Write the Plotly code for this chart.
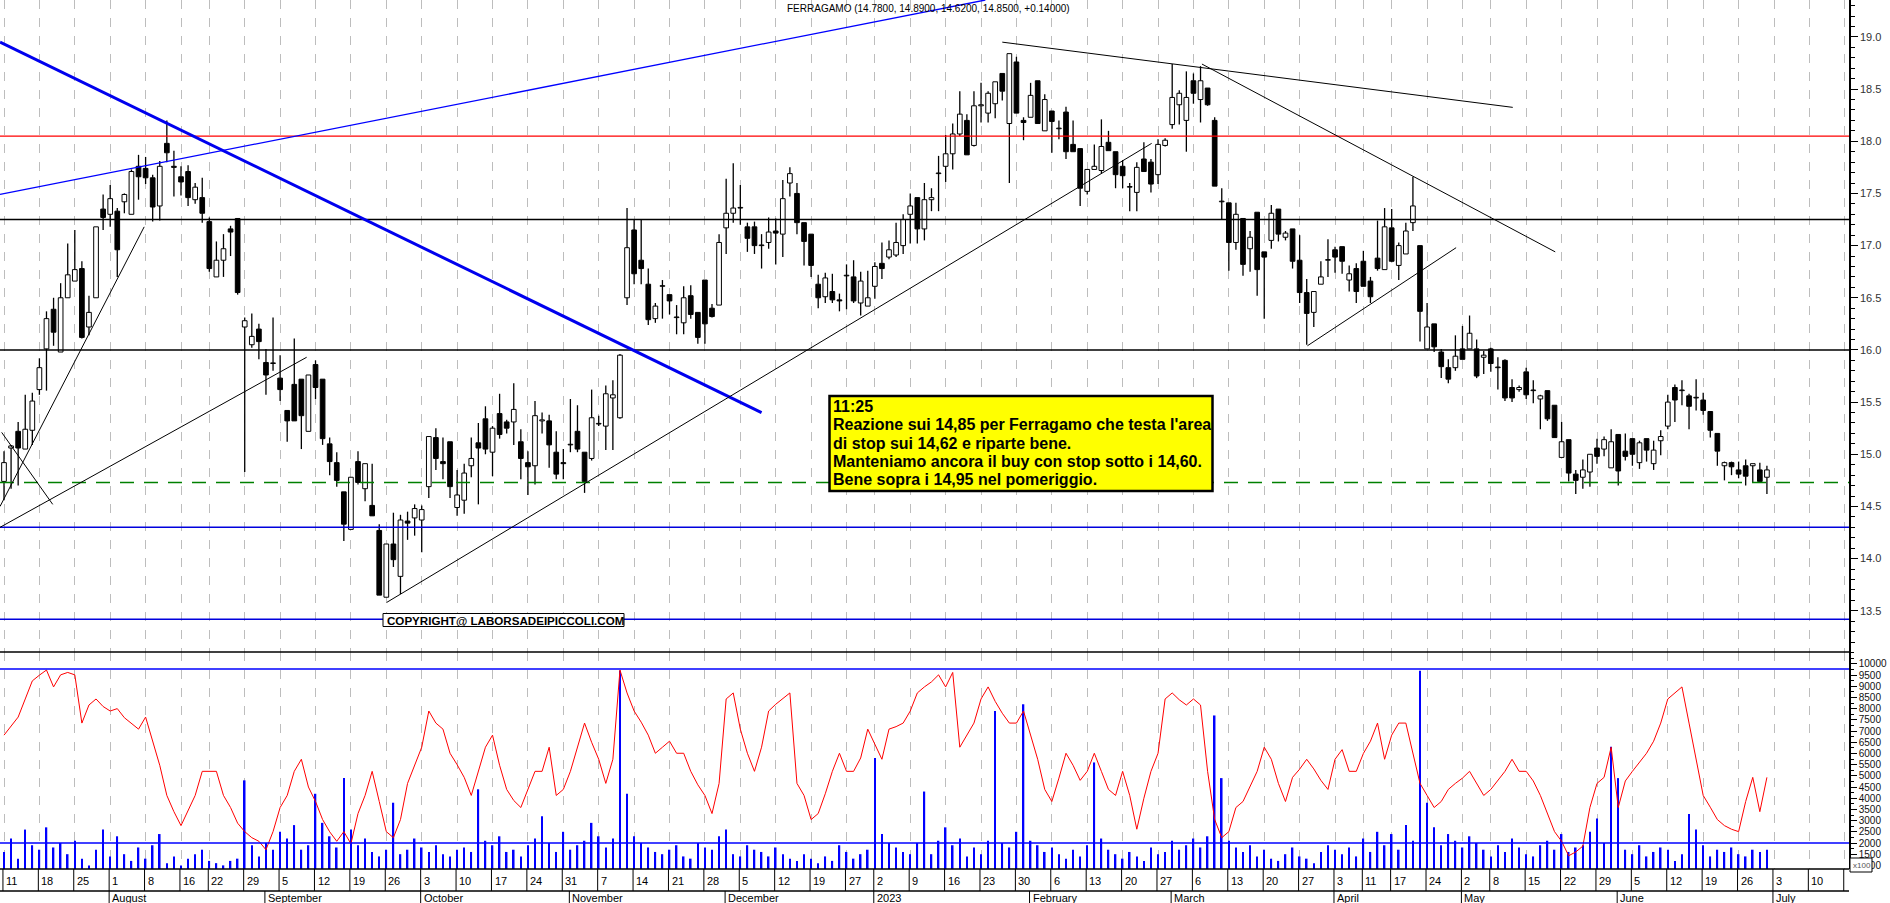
import plotly.graph_objects as go
import pandas as pd

# ---------------- DATA ----------------
holidays = ['2022-08-15', '2022-12-26', '2023-04-07', '2023-04-10', '2023-05-01']

open_ = [14.74,15.06,15.22,15.05,15.23,15.62,16.01,16.39,15.98,16.50,16.66,16.78,16.22,16.50,17.35,17.30,17.33,17.42,17.30,17.76,17.74,17.65,17.38,17.98,17.76,17.66,17.71,17.44,17.46,17.23,16.70,16.86,17.16,17.26,16.22,16.05,16.20,15.88,15.87,15.73,15.42,15.67,15.72,15.22,
         15.86,15.72,15.10,14.92,14.64,14.28,14.93,14.67,14.51,14.27,13.63,14.14,13.83,14.36,14.39,14.37,14.69,15.16,14.93,15.12,14.49,14.56,14.89,15.11,15.34,15.02,15.39,15.31,15.31,15.12,14.92,14.89,15.32,15.32,15.02,14.92,15.09,15.22,15.02,14.96,15.29,15.27,15.54,
         15.35,16.50,17.15,16.86,16.63,16.30,16.61,16.53,16.31,16.26,16.52,16.36,16.67,16.40,16.43,17.17,17.31,17.36,17.18,17.18,17.00,17.03,17.14,17.11,17.60,17.50,17.22,17.11,16.63,16.51,16.56,16.48,16.71,16.70,16.45,16.42,16.61,16.83,16.89,16.91,17.00,17.30,17.46,
         17.16,17.44,17.69,17.76,17.88,18.07,18.20,17.96,18.34,18.27,18.36,18.65,18.17,18.76,18.20,18.23,18.58,18.10,18.29,18.12,18.28,17.97,17.93,17.52,17.73,17.72,17.99,17.90,17.76,17.56,17.51,17.83,17.80,17.68,17.96,18.16,18.35,18.20,18.58,18.40,18.51,18.20,17.42,
         17.41,17.03,17.26,16.97,17.32,16.94,17.05,17.35,17.08,17.16,16.86,16.55,16.36,16.63,16.86,16.96,16.99,16.67,16.78,16.85,16.66,16.88,16.77,17.17,16.81,16.92,17.22,17.00,16.01,16.25,15.98,15.83,15.83,16.01,16.01,16.01,15.93,16.01,15.83,15.90,15.64,15.62,
         15.79,15.61,15.53,15.61,15.47,14.97,15.14,14.81,14.78,14.83,15.06,15.05,14.87,15.19,15.03,15.15,14.92,15.15,14.91,15.13,15.27,15.64,15.61,15.56,15.54,15.52,15.41,15.20,14.89,14.92,14.85,14.89,14.89,14.85,14.78]
high = [15.03,15.09,15.31,15.57,15.59,15.92,16.37,16.50,16.64,17.02,17.15,16.85,16.52,17.18,17.49,17.58,17.36,17.50,17.73,17.87,17.85,17.68,17.81,18.20,17.91,17.76,17.77,17.60,17.65,17.27,17.04,17.11,17.19,17.26,16.31,16.35,16.25,16.01,16.31,15.95,15.42,16.11,15.72,15.76,
        15.90,15.72,15.16,15.02,14.64,14.78,15.03,14.91,14.91,14.33,14.14,14.44,14.42,14.45,14.52,14.51,15.17,15.25,15.16,15.12,14.85,14.91,15.16,15.30,15.46,15.27,15.58,15.33,15.68,15.24,15.03,15.51,15.40,15.38,15.22,15.05,15.53,15.47,15.02,15.62,15.37,15.66,15.71,
        15.96,17.36,17.25,17.25,16.78,16.45,16.67,16.53,16.43,16.61,16.62,16.36,16.67,16.44,17.11,17.64,17.79,17.58,17.22,17.23,17.11,17.27,17.26,17.63,17.75,17.60,17.22,17.11,16.72,16.74,16.73,16.54,16.82,16.86,16.75,16.76,16.84,17.03,17.05,17.22,17.30,17.50,17.46,
        17.60,17.55,17.86,18.06,18.17,18.48,18.26,18.48,18.56,18.48,18.57,18.65,18.84,18.81,18.23,18.56,18.58,18.45,18.29,18.20,18.33,18.20,17.93,17.73,17.97,18.21,18.10,17.90,17.82,17.60,17.80,17.99,17.83,18.02,18.03,18.74,18.49,18.67,18.65,18.72,18.51,18.23,17.55,
        17.41,17.41,17.26,17.14,17.32,16.94,17.39,17.35,17.14,17.16,17.10,16.68,16.56,16.85,17.06,16.99,16.99,16.81,16.83,16.95,16.70,17.24,17.36,17.35,17.03,17.22,17.66,17.00,16.45,16.25,16.01,15.91,16.14,16.23,16.33,16.10,15.99,16.02,15.93,15.91,15.72,15.66,
        15.83,15.71,15.57,15.61,15.47,15.31,15.14,14.85,14.95,15.00,15.15,15.17,15.24,15.19,15.20,15.15,15.13,15.15,15.13,15.23,15.57,15.67,15.71,15.58,15.72,15.59,15.41,15.20,14.93,14.93,14.93,14.95,14.91,14.92,14.89]
low = [14.56,14.67,14.70,15.05,15.09,15.57,15.61,16.04,15.98,16.50,16.66,16.11,16.14,16.50,17.15,17.18,16.70,17.31,17.30,17.44,17.59,17.23,17.24,17.80,17.47,17.48,17.38,17.40,17.22,16.75,16.70,16.70,16.90,16.53,14.83,16.02,15.91,15.57,15.80,15.51,15.12,15.32,15.05,15.22,
       15.53,15.09,14.80,14.69,14.17,14.28,14.71,14.55,14.41,13.65,13.63,13.92,13.66,14.18,14.22,14.06,14.58,14.85,14.76,14.58,14.41,14.43,14.78,14.52,15.00,14.79,15.15,15.20,15.09,14.76,14.61,14.71,15.20,14.87,14.76,14.76,15.02,15.02,14.63,14.94,15.27,15.04,15.04,
       15.34,16.43,16.63,16.63,16.24,16.26,16.30,16.34,16.15,16.15,16.30,16.06,16.06,16.31,16.43,16.92,17.22,17.20,16.94,16.92,16.78,16.97,16.82,16.89,17.47,17.11,16.81,16.70,16.40,16.45,16.45,16.37,16.39,16.45,16.33,16.42,16.49,16.68,16.87,16.89,16.92,17.02,17.02,
       17.05,17.33,17.33,17.61,17.73,18.05,17.87,17.95,18.18,18.18,18.22,18.39,17.60,18.27,18.01,18.23,18.17,18.10,17.89,18.02,17.83,17.90,17.38,17.49,17.73,17.69,17.91,17.55,17.55,17.33,17.33,17.71,17.51,17.59,17.95,18.12,18.16,17.90,18.36,18.18,18.34,17.57,17.25,
       16.76,16.96,16.71,16.75,16.52,16.30,16.97,17.04,17.05,16.78,16.45,16.05,16.22,16.63,16.70,16.74,16.73,16.56,16.45,16.61,16.45,16.76,16.77,16.84,16.67,16.92,17.14,16.08,16.01,15.98,15.73,15.68,15.80,15.91,16.01,15.73,15.77,15.79,15.62,15.51,15.50,15.60,
       15.53,15.49,15.24,15.32,15.16,14.97,14.74,14.62,14.67,14.69,14.91,14.98,14.87,14.70,14.94,14.89,14.86,14.93,14.85,14.99,15.24,15.31,15.47,15.24,15.42,15.38,15.16,14.89,14.75,14.80,14.77,14.70,14.73,14.73,14.62]
close = [14.92,15.08,15.06,15.24,15.51,15.83,16.30,16.17,16.50,16.72,16.77,16.12,16.36,17.18,17.27,17.45,16.96,17.49,17.71,17.66,17.65,17.37,17.76,17.89,17.75,17.61,17.46,17.56,17.31,16.78,16.86,16.97,17.13,16.55,16.28,16.13,16.08,15.76,15.87,15.62,15.32,15.32,15.37,15.76,
         15.64,15.15,14.93,14.75,14.33,14.78,14.73,14.91,14.41,13.65,14.14,13.99,14.37,14.34,14.48,14.47,15.17,14.96,14.91,14.69,14.61,14.82,14.96,15.06,15.05,15.25,15.19,15.25,15.43,14.96,14.88,15.37,15.33,15.09,14.81,14.91,15.09,15.05,14.74,15.35,15.29,15.58,15.57,
         15.95,16.98,16.73,16.78,16.29,16.42,16.61,16.47,16.31,16.50,16.34,16.12,16.25,16.32,17.03,17.31,17.36,17.36,17.07,17.00,17.00,17.13,17.12,17.45,17.69,17.22,17.04,16.81,16.50,16.69,16.48,16.47,16.71,16.47,16.66,16.50,16.80,16.78,16.96,17.03,17.25,17.38,17.16,
         17.44,17.46,17.69,17.88,18.07,18.26,17.87,18.34,18.35,18.46,18.57,18.48,18.84,18.27,18.18,18.44,18.17,18.40,18.19,18.12,17.90,17.90,17.55,17.73,17.76,17.95,17.91,17.68,17.67,17.56,17.75,17.71,17.59,17.97,18.01,18.42,18.46,18.42,18.46,18.58,18.35,17.57,17.42,
         17.03,17.30,16.82,17.08,16.77,16.89,17.31,17.11,17.12,16.85,16.55,16.35,16.56,16.70,16.86,16.89,16.85,16.73,16.56,16.61,16.51,16.78,17.18,16.85,17.00,17.14,17.38,16.37,16.22,16.03,15.84,15.72,15.94,15.91,16.16,15.75,15.95,15.87,15.83,15.54,15.54,15.64,
         15.57,15.61,15.56,15.34,15.16,15.12,14.82,14.75,14.85,15.00,14.98,15.14,15.12,14.84,14.98,15.00,15.11,15.04,15.04,15.17,15.50,15.52,15.61,15.46,15.54,15.42,15.23,15.03,14.92,14.88,14.81,14.79,14.91,14.74,14.85]

# volume (x100) and oscillator (same panel scale)
volume = [1600,2200,1300,2600,1900,1700,2700,1800,2000,1500,2100,1300,1000,1700,2600,1400,2300,1500,1200,1800,
          1300,1900,2400,1100,1400,1000,1300,1500,1700,1200,1100,1000,1200,1300,4800,1900,1400,2000,1700,2500,
          2200,2800,1700,1900,4200,2900,2300,1800,4900,2600,1900,2200,1600,1400,1700,3800,1500,1700,2200,1800,
          1600,1900,1500,1400,1700,1800,1600,4400,2100,1900,2300,1600,1700,1400,1900,2200,3200,2000,1600,2500,
          1700,1900,2100,2900,2300,1800,2200,9700,4200,2300,2000,1800,1600,1500,1700,1900,1400,1300,2000,1800,
          1700,2300,2600,1500,1400,1900,1700,1600,1400,1800,1500,1300,1200,1500,1300,1100,1400,1200,1900,1600,
          1300,1500,1700,5800,2400,2000,1800,1600,1500,2000,4300,1500,2100,2700,1900,2200,1400,1800,1500,2100,
          7900,2000,1800,2500,8200,2100,1900,1600,1800,1500,1300,1700,1400,1900,5600,2200,1700,1500,1300,1600,
          1400,1200,1800,1500,1600,2100,1700,1900,2200,1800,2300,7700,4900,2100,1800,1600,1900,1400,1700,1300,
          1200,1500,1800,1400,1300,1100,1600,1900,1700,1500,1800,1400,2200,1600,2500,1900,2400,1700,2800,2100,
          9700,3800,2700,1900,2400,2100,1800,2300,2000,1700,1400,1900,1600,2200,1800,1500,1400,1900,2100,1700,
          2400,1600,1800,1900,2500,3100,2000,6300,4900,1700,1500,1900,1400,1600,1800,1700,1200,1500,3300,2600,
          1900,1400,1700,1600,1800,1500,1400,1700,1600,1700]
osc = [6820,7200,7628,8437,9245,9500,9730,8976,9515,9623,9515,7359,8167,8437,8100,7898,8006,7600,7359,7089,
       7628,6550,5472,4125,3400,2777,3478,4125,5203,5203,5203,4125,3586,2885,2508,2238,2077,1700,2508,3586,
       4125,5203,5742,4500,3855,3047,2500,2077,2508,1969,3316,4125,5203,3855,2508,2238,3047,4664,5500,6281,
       7898,7359,7089,6011,5500,4933,4125,5203,6281,6820,5472,4394,3900,3586,4394,5203,5203,6281,4125,4394,
       5203,6281,7359,6500,5742,4664,5742,9730,8706,7898,7400,6820,6011,6281,6550,6011,6011,5203,4600,4125,
       3316,4664,8437,8706,7089,6011,5203,6281,7898,8200,8437,8706,4664,4125,3047,3316,4200,5203,6011,5203,
       5203,5800,7089,6400,5742,7089,7200,7359,7898,8706,8976,9200,9515,8976,9623,6281,6800,7359,8437,8976,
       8329,7800,7359,7359,7898,6820,5742,4394,3855,4900,6011,5472,4800,5203,6011,5200,4394,4125,5203,4125,
       2616,4000,5203,6011,8437,8706,8400,8167,8437,8167,5203,3047,2238,2508,3586,3855,4500,5203,6281,5742,
       4664,3855,4933,5300,5742,5311,4800,4394,5742,6173,5203,5203,6000,6550,7359,5742,6820,7359,7359,6000,
       4664,4125,3586,3855,4394,4664,4900,5203,4664,4125,4394,4800,5203,5742,5203,5203,4772,4125,3300,2508,
       2077,1430,1600,1861,3586,4664,4933,6281,3586,4772,5203,5600,6011,6550,7359,8437,8706,8976,7359,5742,
       4125,3600,3047,2777,2616,2508,3855,4933,3400,4933]

# horizontal levels (price panel) and indicator levels (lower panel)
level_red = 18.05
levels_black = [17.25, 16.00]
level_green = 14.73
levels_blue = [14.30, 13.42]
osc_levels = [9780, 2000]

# trendlines: (start index, start price, end index, end price)
thick_blue_lines = [(-0.56, 18.95, 107.0, 15.40)]
thin_blue_lines = [(-0.56, 17.49, 138.6, 19.354)]
black_lines = [(-0.56, 14.50, 19.8, 17.18), (-0.33, 15.21, 6.88, 14.52), (-0.56, 14.30, 42.75, 15.93),
               (54.05, 13.58, 162.1, 17.98), (141.0, 18.95, 213.1, 18.325), (169.2, 18.74, 219.1, 16.94),
               (184.1, 16.04, 205.1, 16.98)]

title_text = "FERRAGAMO (14.7800, 14.8900, 14.6200, 14.8500, +0.14000)"
note_lines = ["11:25", "Reazione sui 14,85 per Ferragamo che testa l'area", "di stop sui 14,62 e riparte bene.",
              "Manteniamo ancora il buy con stop sotto i 14,60.", "Bene sopra i 14,95 nel pomeriggio."]
copyright_text = "COPYRIGHT@ LABORSADEIPICCOLI.COM"
month_names = {1: '2023', 2: 'February', 3: 'March', 4: 'April', 5: 'May', 6: 'June', 7: 'July',
               8: 'August', 9: 'September', 10: 'October', 11: 'November', 12: 'December'}
price_ticks = [13.5, 14.0, 14.5, 15.0, 15.5, 16.0, 16.5, 17.0, 17.5, 18.0, 18.5, 19.0]
osc_ticks = list(range(1000, 10001, 500))

# ---------------- GEOMETRY ----------------
W, H = 1890, 903
PW = 1849          # plot width in px
PH = 869           # plot height in px (bottom margin 34)
PX_PER_BAR = 7.08
X0 = -4 / PX_PER_BAR
X1 = (PW - 4) / PX_PER_BAR
SPLIT = (PH - 652) / PH
FONT = "Liberation Sans, Arial, sans-serif"

def py(pix):
    return (PH - pix) / PH

def px(pix):
    return pix / PW

days = [d for d in pd.bdate_range('2022-07-11', '2023-07-21') if d.strftime('%Y-%m-%d') not in holidays]
N = len(open_)
idx = list(range(N))

week_ticks, month_ticks = [], []
for i, d in enumerate(days):
    if i == 0 or d.isocalendar()[1] != days[i - 1].isocalendar()[1]:
        week_ticks.append((i, str(d.day)))
    if i > 0 and d.month != days[i - 1].month:
        month_ticks.append((i, month_names[d.month]))
week_ticks = [w for w in week_ticks if w[0] <= X1]
label_weeks = [w for w in week_ticks if w[0] <= X1 - 2]
month_ticks = [m for m in month_ticks if m[0] <= X1]

fig = go.Figure()

# wicks (split so they do not cross white bodies)
wx, wy = [], []
for i in idx:
    top = max(open_[i], close[i]); bot = min(open_[i], close[i])
    hi = max(high[i], top); lo = min(low[i], bot)
    if hi > top:
        wx += [i, i, None]; wy += [hi, top, None]
    if lo < bot:
        wx += [i, i, None]; wy += [bot, lo, None]
fig.add_trace(go.Scatter(x=wx, y=wy, mode='lines', line=dict(color='black', width=1.3),
                         hoverinfo='skip', showlegend=False, xaxis='x', yaxis='y'))

up = [i for i in idx if close[i] >= open_[i]]
dn = [i for i in idx if close[i] < open_[i]]
for sel, fill in ((up, 'white'), (dn, 'black')):
    fig.add_trace(go.Bar(x=sel, base=[min(open_[i], close[i]) for i in sel],
                         y=[max(abs(close[i] - open_[i]), 0.006) for i in sel],
                         width=0.66, marker=dict(color=fill, line=dict(color='black', width=1)),
                         showlegend=False, xaxis='x', yaxis='y'))

# lower panel
fig.add_trace(go.Bar(x=idx, y=volume, width=0.22, marker=dict(color='#0000ff', line=dict(width=0)),
                     showlegend=False, xaxis='x2', yaxis='y2'))
fig.add_trace(go.Scatter(x=idx, y=osc, mode='lines', line=dict(color='#ff0000', width=1),
                         showlegend=False, xaxis='x2', yaxis='y2'))

shapes = []
def hline(y, color, width, dash='solid', yref='y', xref='x domain'):
    shapes.append(dict(type='line', xref=xref, yref=yref, x0=0, x1=1, y0=y, y1=y,
                       line=dict(color=color, width=width, dash=dash)))
hline(level_red, '#ff0000', 1.2)
for v in levels_black:
    hline(v, 'black', 1.5)
hline(level_green, '#008000', 1.4, dash='14px,10px')
for v in levels_blue:
    hline(v, '#0000dd', 1.5)
for v in osc_levels:
    hline(v, '#0000ff', 1.5, yref='y2', xref='x2 domain')

for (a, pa, b, pb) in thick_blue_lines:
    shapes.append(dict(type='line', xref='x', yref='y', x0=a, y0=pa, x1=b, y1=pb,
                       line=dict(color='#0000ee', width=3)))
for (a, pa, b, pb) in thin_blue_lines:
    shapes.append(dict(type='line', xref='x', yref='y', x0=a, y0=pa, x1=b, y1=pb,
                       line=dict(color='#0000ff', width=1.3)))
for (a, pa, b, pb) in black_lines:
    shapes.append(dict(type='line', xref='x', yref='y', x0=a, y0=pa, x1=b, y1=pb,
                       line=dict(color='black', width=1)))

# panel separator
shapes.append(dict(type='line', xref='paper', yref='paper', x0=0, x1=1, y0=SPLIT, y1=SPLIT,
                   line=dict(color='black', width=1.5)))
# date strip
shapes.append(dict(type='line', xref='paper', yref='paper', x0=0, x1=1, y0=py(891), y1=py(891),
                   line=dict(color='black', width=1.5)))
shapes.append(dict(type='line', xref='paper', yref='paper', x0=0, x1=1, y0=0, y1=0,
                   line=dict(color='black', width=1.5)))
for (i, lab) in week_ticks:
    shapes.append(dict(type='line', xref='x2', yref='paper', x0=i - 0.15, x1=i - 0.15, y0=0, y1=py(891),
                       line=dict(color='black', width=1)))
for (i, lab) in month_ticks:
    shapes.append(dict(type='line', xref='x2', yref='paper', x0=i - 0.15, x1=i - 0.15, y0=py(891), y1=py(903),
                       line=dict(color='black', width=1)))

# note box (yellow)
shapes.append(dict(type='rect', xref='paper', yref='paper', x0=px(829.5), x1=px(1212.5), y0=py(396), y1=py(491),
                   fillcolor='#ffff00', line=dict(color='black', width=2.5), layer='above'))
# copyright box
shapes.append(dict(type='rect', xref='paper', yref='paper', x0=px(383), x1=px(624), y0=py(613.5), y1=py(626.5),
                   fillcolor='white', line=dict(color='black', width=1), layer='above'))
# x100 box
shapes.append(dict(type='rect', xref='paper', yref='paper', x0=px(1850), x1=px(1872), y0=py(858), y1=py(872),
                   fillcolor='white', line=dict(color='black', width=1), layer='above'))

annotations = []
for (i, lab) in label_weeks:
    annotations.append(dict(x=i, y=py(881), xref='x2', yref='paper', text=lab, showarrow=False,
                            xanchor='left', yanchor='middle', xshift=0,
                            font=dict(family=FONT, size=11, color='black')))
for (i, lab) in month_ticks:
    annotations.append(dict(x=i, y=py(898), xref='x2', yref='paper', text=lab, showarrow=False,
                            xanchor='left', yanchor='middle', xshift=0,
                            font=dict(family=FONT, size=11, color='black')))

annotations.append(dict(x=px(785), y=py(8), xref='paper', yref='paper', text=title_text, showarrow=False,
                        xanchor='left', yanchor='middle', font=dict(family=FONT, size=10, color='black')))
note_y = [406.7, 425.0, 443.3, 461.6, 479.9]
for t, yy in zip(note_lines, note_y):
    annotations.append(dict(x=px(831), y=py(yy), xref='paper', yref='paper', text='<b>' + t + '</b>',
                            showarrow=False, xanchor='left', yanchor='middle',
                            font=dict(family=FONT, size=16, color='black')))
annotations.append(dict(x=px(385), y=py(620), xref='paper', yref='paper', text='<b>' + copyright_text + '</b>',
                        showarrow=False, xanchor='left', yanchor='middle',
                        font=dict(family=FONT, size=11.6, color='black')))
annotations.append(dict(x=px(1851), y=py(865), xref='paper', yref='paper', text='x100', showarrow=False,
                        xanchor='left', yanchor='middle',
                        font=dict(family=FONT, size=8, color='#555555')))

grid_vals = [w[0] for w in week_ticks]
xcommon = dict(range=[X0, X1], tickvals=grid_vals, showticklabels=False, showgrid=True,
               gridcolor='#bdbdbd', griddash='dash', gridwidth=1, zeroline=False, ticks='', showline=False)

fig.update_layout(
    width=W, height=H, margin=dict(l=0, r=W - PW, t=0, b=H - PH),
    paper_bgcolor='white', plot_bgcolor='white', barmode='overlay', showlegend=False,
    xaxis=dict(anchor='y', domain=[0, 1], **xcommon),
    xaxis2=dict(anchor='y2', domain=[0, 1], **xcommon),
    yaxis=dict(domain=[SPLIT, 1], range=[13.105, 19.354], side='right', anchor='x',
               tickvals=price_ticks, ticktext=['%.1f' % v for v in price_ticks],
               ticks='outside', ticklen=7, tickcolor='black', showline=True, linecolor='black', linewidth=1.5,
               showgrid=False, zeroline=False,
               minor=dict(dtick=0.1, ticks='outside', ticklen=4, tickcolor='black', showgrid=False),
               tickfont=dict(family=FONT, size=11, color='#333333')),
    yaxis2=dict(domain=[0, SPLIT], range=[838, 10536], side='right', anchor='x2',
                tickvals=osc_ticks, ticktext=[str(v) for v in osc_ticks],
                ticks='outside', ticklen=6, tickcolor='black', showline=True, linecolor='black', linewidth=1.5,
                showgrid=False, zeroline=False,
                minor=dict(dtick=250, ticks='outside', ticklen=3, tickcolor='black', showgrid=False),
                tickfont=dict(family=FONT, size=10, color='#111111')),
    shapes=shapes, annotations=annotations,
)

fig.write_html("out.html", config={'displayModeBar': False},
               post_script="document.body.style.margin='0px';document.body.style.overflow='hidden';")
